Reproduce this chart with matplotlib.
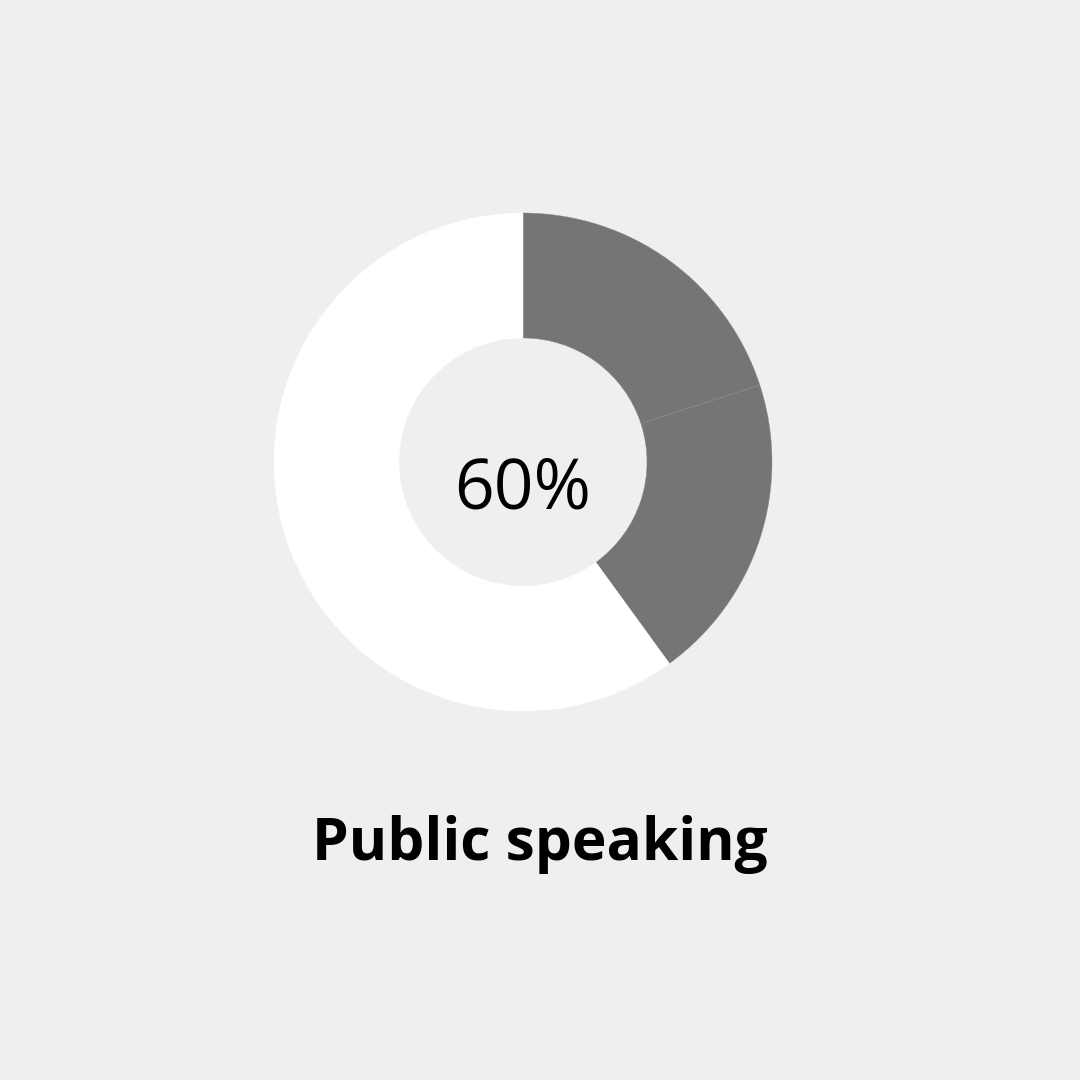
import matplotlib
matplotlib.use("Agg")
import matplotlib.pyplot as plt

# donut values (percent), clockwise from 12 o'clock
shares = [20, 20, 60]
colors = ["#757575", "#757575", "#ffffff"]
center_label = "60%"
title = "Public speaking"

BG = "#efefef"
W = H = 1080

fig = plt.figure(figsize=(W / 100, H / 100), dpi=100, facecolor=BG)

# donut centered at (523, 462) px from top-left, outer radius 249 px
cx, cy, r = 523, 462, 249
ax = fig.add_axes([(cx - r) / W, (H - cy - r) / H, 2 * r / W, 2 * r / H])
ax.set_facecolor(BG)
ax.pie(shares, colors=colors, startangle=90, counterclock=False, radius=1,
       wedgeprops=dict(width=125 / 249, edgecolor="#8a8a8a", linewidth=0.3))
# hide the seam on the white wedge
ax.patches[2].set_edgecolor("#ffffff")
ax.set_xlim(-1, 1)
ax.set_ylim(-1, 1)
ax.set_aspect("equal")
ax.axis("off")

ax.text(0, -0.115, center_label, ha="center", va="center",
        fontsize=50, family="Open Sans", color="#000000")

fig.text(0.5, 1 - 844 / H, title, ha="center", va="center",
         fontsize=42.2, family="Open Sans", fontweight="bold", color="#000000")

fig.savefig("out.png", dpi=100, facecolor=BG)
plt.close(fig)
